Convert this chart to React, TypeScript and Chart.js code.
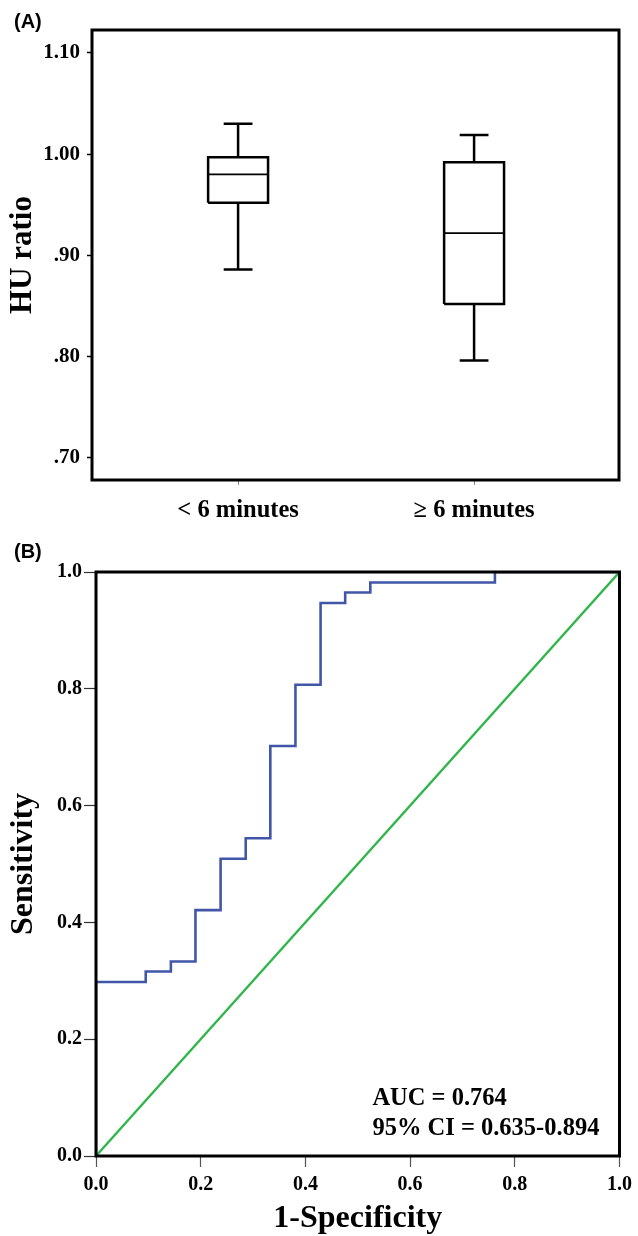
import React, { useEffect, useRef } from "react";
import { Chart, registerables } from "chart.js";

Chart.register(...registerables);

// ---------- Panel A: box plot data ----------
const groups = ["< 6 minutes", "\u2265 6 minutes"];
const groupPositions = [0, 1];
const whiskerLow = [0.886, 0.796];
const q1 = [0.952, 0.852];
const median = [0.98, 0.922];
const q3 = [0.997, 0.992];
const whiskerHigh = [1.03, 1.019];
const hrTickValues = [0.7, 0.8, 0.9, 1.0, 1.1];
const hrTickLabels = [".70", ".80", ".90", "1.00", "1.10"];

// ---------- Panel B: ROC data ----------
const fpr = [0, 0, 0.095, 0.143, 0.19, 0.238, 0.286, 0.333, 0.381, 0.429, 0.476, 0.524, 0.762, 1.0];
const tpr = [0, 0.298, 0.316, 0.333, 0.421, 0.509, 0.544, 0.702, 0.807, 0.947, 0.965, 0.982, 1.0, 1.0];
const refX = [0, 1];
const refY = [0, 1];
const rocTickValues = [0, 0.2, 0.4, 0.6, 0.8, 1.0];
const rocTickLabels = ["0.0", "0.2", "0.4", "0.6", "0.8", "1.0"];
const aucLines = ["AUC = 0.764", "95% CI = 0.635-0.894"];

const SERIF = "'Liberation Serif', 'Times New Roman', serif";
const SANS = "'Liberation Sans', Arial, sans-serif";

const BOX_HALF = 0.127;
const CAP_HALF = 0.061;

const framePlugin = (lw: number) => ({
  id: "frame",
  afterDatasetsDraw(chart: any) {
    const { ctx, chartArea: a } = chart;
    ctx.save();
    ctx.strokeStyle = "#000";
    ctx.lineWidth = lw;
    ctx.strokeRect(a.left, a.top, a.right - a.left, a.bottom - a.top);
    ctx.restore();
  },
});

const panelLabelPlugin = (text: string, x: number, y: number) => ({
  id: "panelLabel",
  afterDraw(chart: any) {
    const ctx = chart.ctx;
    ctx.save();
    ctx.font = `bold 20px ${SANS}`;
    ctx.fillStyle = "#000";
    ctx.textBaseline = "alphabetic";
    ctx.textAlign = "left";
    ctx.fillText(text, x, y);
    ctx.restore();
  },
});

const aucPlugin = {
  id: "aucText",
  afterDraw(chart: any) {
    const { ctx, scales } = chart;
    const x = scales.x.getPixelForValue(0.528);
    const ys = [0.087, 0.036].map((v) => scales.y.getPixelForValue(v));
    ctx.save();
    ctx.font = `bold 24.5px ${SERIF}`;
    ctx.fillStyle = "#000";
    ctx.textBaseline = "alphabetic";
    ctx.textAlign = "left";
    aucLines.forEach((t, i) => ctx.fillText(t, x, ys[i]));
    ctx.restore();
  },
};

function boxDatasets() {
  const ds: any[] = [];
  const base = {
    borderColor: "#000",
    borderWidth: 2.5,
    pointRadius: 0,
    tension: 0,
    fill: false,
    borderJoinStyle: "miter",
    borderCapStyle: "butt",
  };
  groupPositions.forEach((x, i) => {
    ds.push({
      ...base,
      label: `box-${i}`,
      data: [
        { x: x - BOX_HALF, y: q1[i] },
        { x: x + BOX_HALF, y: q1[i] },
        { x: x + BOX_HALF, y: q3[i] },
        { x: x - BOX_HALF, y: q3[i] },
        { x: x - BOX_HALF, y: q1[i] },
      ],
    });
    ds.push({
      ...base,
      borderWidth: 1.8,
      label: `median-${i}`,
      data: [
        { x: x - BOX_HALF, y: median[i] },
        { x: x + BOX_HALF, y: median[i] },
      ],
    });
    ds.push({
      ...base,
      label: `upper-${i}`,
      data: [
        { x: x, y: q3[i] },
        { x: x, y: whiskerHigh[i] },
        { x: x - CAP_HALF, y: whiskerHigh[i] },
        { x: x + CAP_HALF, y: whiskerHigh[i] },
      ],
    });
    ds.push({
      ...base,
      label: `lower-${i}`,
      data: [
        { x: x, y: q1[i] },
        { x: x, y: whiskerLow[i] },
        { x: x - CAP_HALF, y: whiskerLow[i] },
        { x: x + CAP_HALF, y: whiskerLow[i] },
      ],
    });
  });
  return ds;
}

function BoxPanel() {
  const ref = useRef<HTMLCanvasElement | null>(null);
  useEffect(() => {
    if (!ref.current) return;
    const chart = new Chart(ref.current, {
      type: "line",
      data: { datasets: boxDatasets() },
      options: {
        animation: false,
        responsive: false,
        events: [],
        layout: { padding: { top: 30, right: 19, left: 0, bottom: 0 } },
        plugins: { legend: { display: false }, tooltip: { enabled: false } },
        scales: {
          x: {
            type: "linear",
            min: -0.619,
            max: 1.614,
            afterBuildTicks: (s: any) => {
              s.ticks = groupPositions.map((v) => ({ value: v }));
            },
            afterFit: (s: any) => {
              s.height = 60;
            },
            ticks: {
              callback: (_v: any, i: number) => groups[i],
              font: { family: SERIF, size: 24.5, weight: "bold" },
              color: "#000",
              padding: 11,
              maxRotation: 0,
              autoSkip: false,
            },
            grid: {
              drawOnChartArea: false,
              drawTicks: true,
              tickLength: 5,
              tickColor: "#888",
              tickWidth: 1,
            },
            border: { display: false },
          },
          y: {
            type: "linear",
            min: 0.678,
            max: 1.1227,
            afterBuildTicks: (s: any) => {
              s.ticks = hrTickValues.map((v) => ({ value: v }));
            },
            afterFit: (s: any) => {
              s.width = 92;
            },
            ticks: {
              callback: (_v: any, i: number) => hrTickLabels[i],
              font: { family: SERIF, size: 21, weight: "bold" },
              color: "#000",
              padding: 7,
              autoSkip: false,
            },
            grid: {
              drawOnChartArea: false,
              drawTicks: true,
              tickLength: 5,
              tickColor: "#000",
              tickWidth: 1.5,
            },
            border: { display: false },
            title: {
              display: true,
              text: "HU ratio",
              color: "#000",
              font: { family: SERIF, size: 31, weight: "bold", lineHeight: 1 },
              padding: { top: 7, bottom: 0 },
            },
          },
        },
      } as any,
      plugins: [framePlugin(3), panelLabelPlugin("(A)", 14, 28)],
    });
    return () => chart.destroy();
  }, []);
  return <canvas ref={ref} width={638} height={540} style={{ display: "block", width: 638, height: 540 }} />;
}

function RocPanel() {
  const ref = useRef<HTMLCanvasElement | null>(null);
  useEffect(() => {
    if (!ref.current) return;
    const chart = new Chart(ref.current, {
      type: "line",
      data: {
        datasets: [
          {
            label: "Reference",
            data: refX.map((x, i) => ({ x, y: refY[i] })),
            borderColor: "#2fb54a",
            borderWidth: 2.3,
            pointRadius: 0,
            tension: 0,
            fill: false,
          },
          {
            label: "ROC",
            data: fpr.map((x, i) => ({ x, y: tpr[i] })),
            borderColor: "#4256a8",
            borderWidth: 2.6,
            pointRadius: 0,
            stepped: "before",
            fill: false,
            borderJoinStyle: "miter",
          },
        ],
      },
      options: {
        animation: false,
        responsive: false,
        events: [],
        layout: { padding: { top: 32, right: 14, left: 0, bottom: 0 } },
        plugins: { legend: { display: false }, tooltip: { enabled: false } },
        scales: {
          x: {
            type: "linear",
            min: 0,
            max: 1,
            afterBuildTicks: (s: any) => {
              s.ticks = rocTickValues.map((v) => ({ value: v }));
            },
            afterFit: (s: any) => {
              s.height = 80;
            },
            ticks: {
              callback: (_v: any, i: number) => rocTickLabels[i],
              font: { family: SERIF, size: 20, weight: "bold" },
              color: "#000",
              padding: 6,
              maxRotation: 0,
              autoSkip: false,
            },
            grid: {
              drawOnChartArea: false,
              drawTicks: true,
              tickLength: 11,
              tickColor: "#555",
              tickWidth: 1.2,
            },
            border: { display: false },
            title: {
              display: true,
              text: "1-Specificity",
              color: "#000",
              font: { family: SERIF, size: 32, weight: "bold", lineHeight: 1 },
              padding: { top: 0, bottom: 1 },
            },
          },
          y: {
            type: "linear",
            min: 0,
            max: 1,
            afterBuildTicks: (s: any) => {
              s.ticks = rocTickValues.map((v) => ({ value: v }));
            },
            afterFit: (s: any) => {
              s.width = 96;
            },
            ticks: {
              callback: (_v: any, i: number) => rocTickLabels[i],
              font: { family: SERIF, size: 20, weight: "bold" },
              color: "#000",
              padding: 2,
              autoSkip: false,
            },
            grid: {
              drawOnChartArea: false,
              drawTicks: true,
              tickLength: 12,
              tickColor: "#333",
              tickWidth: 1.2,
            },
            border: { display: false },
            title: {
              display: true,
              text: "Sensitivity",
              color: "#000",
              font: { family: SERIF, size: 32, weight: "bold", lineHeight: 1 },
              padding: { top: 8, bottom: 0 },
            },
          },
        },
      } as any,
      plugins: [framePlugin(3), panelLabelPlugin("(B)", 14, 18), aucPlugin],
    });
    return () => chart.destroy();
  }, []);
  return <canvas ref={ref} width={638} height={696} style={{ display: "block", width: 638, height: 696 }} />;
}

export default function App() {
  useEffect(() => {
    document.body.style.margin = "0";
    document.body.style.background = "#fff";
  }, []);
  return (
    <div style={{ width: 638, height: 1236, overflow: "hidden", background: "#fff" }}>
      <BoxPanel />
      <RocPanel />
    </div>
  );
}
